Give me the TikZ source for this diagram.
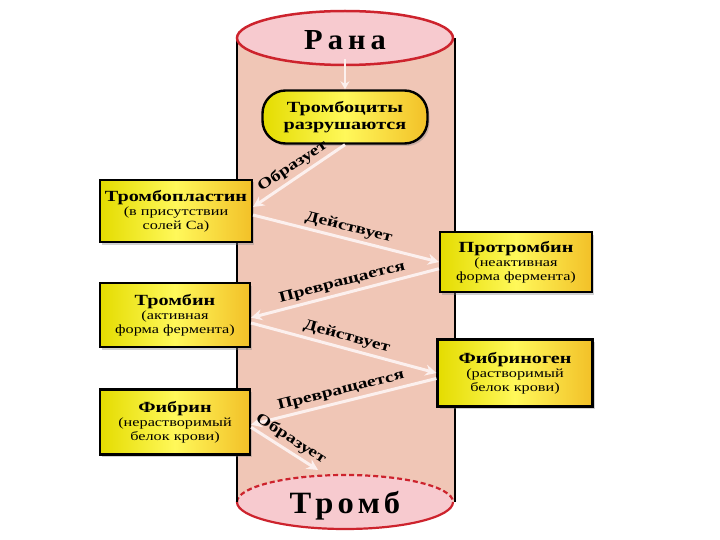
\documentclass[tikz,border=0pt]{standalone}
\usepackage{fontspec}
\setmainfont{Liberation Serif}[FakeStretch=1.3]
\newfontfamily\bigf{Liberation Serif}[FakeStretch=1.05]
\usetikzlibrary{shadows,arrows.meta}

\definecolor{body}{RGB}{240,198,182}
\definecolor{lid}{RGB}{247,202,207}
\definecolor{lidred}{RGB}{205,35,45}
\definecolor{yelA}{RGB}{228,220,0}
\definecolor{yelB}{RGB}{255,248,90}
\definecolor{yelC}{RGB}{242,192,40}
\definecolor{arr}{RGB}{252,240,238}

\newcommand{\ttlf}{\bfseries\fontsize{15.5}{17}\selectfont}

\tikzset{
 box/.style={draw=black, line width=2.2pt, minimum width=152pt, minimum height=62pt,
   align=center, left color=yelA, right color=yelC, middle color=yelB, inner sep=2pt,
   font=\fontsize{12.5}{13.5}\selectfont,
   drop shadow={shadow xshift=2pt,shadow yshift=-2.5pt,opacity=0.35,fill=gray}},
 pill/.style={draw=black, line width=2.4pt, rounded corners=23pt, minimum width=165pt,
   minimum height=53pt, align=center, left color=yelA, right color=yelC, middle color=yelB,
   font=\bfseries\fontsize{15.5}{17}\selectfont,
   drop shadow={shadow xshift=2pt,shadow yshift=-2.5pt,opacity=0.35,fill=gray}},
 flow/.style={draw=arr, line width=3pt, -{Stealth[length=11pt,width=11pt]}},
 lbl/.style={font=\bfseries\fontsize{15}{16}\selectfont, sloped, above, inner sep=3pt, midway},
 title/.style={font=\bigf\bfseries}
}

\begin{document}
\begin{tikzpicture}[x=1pt,y=-1pt]
\useasboundingbox[fill=white] (0,0) rectangle (720,540);

% cylinder body
\fill[body] (237,38) rectangle (455,502);
\fill[lid] (345,502) ellipse [x radius=108, y radius=27];
\draw[lidred, line width=2.2pt] (453,502) arc[start angle=0, end angle=180, x radius=108, y radius=27];
\draw[lidred, line width=2.2pt, dashed, dash pattern=on 5pt off 3pt] (237,502) arc[start angle=180, end angle=360, x radius=108, y radius=27];
\draw[line width=1.6pt] (237,38) -- (237,502);
\draw[line width=1.6pt] (455,38) -- (455,502);
\draw[lidred, line width=2.5pt, fill=lid] (345,38) ellipse [x radius=108, y radius=27];

\node[title, font=\bigf\bfseries\fontsize{29}{30}\selectfont] (rana) at (345,40) {Р\hspace{5pt}а\hspace{5pt}н\hspace{5pt}а};
\node[title, font=\bigf\bfseries\fontsize{31}{32}\selectfont] (tromb) at (345,506) {Т\hspace{4pt}р\hspace{4pt}о\hspace{4pt}м\hspace{4pt}б};

% nodes
\node[pill] (trc) at (345,117) {Тромбоциты\\разрушаются};
\node[box] (tpl) at (176,211) {{\ttlf Тромбопластин}\\[1pt](в присутствии\\солей Са)};
\node[box, minimum height=60pt] (prt) at (516,262) {{\ttlf Протромбин}\\[1pt](неактивная\\форма фермента)};
\node[box, minimum width=150pt, minimum height=64pt] (trn) at (175,315) {{\ttlf Тромбин}\\[1pt](активная\\форма фермента)};
\node[box, minimum width=155pt, minimum height=67pt] (fbg) at (515,373) {{\ttlf Фибриноген}\\[1pt](растворимый\\белок крови)};
\node[box, minimum width=150pt, minimum height=65pt] (fbn) at (175,422) {{\ttlf Фибрин}\\[1pt](нерастворимый\\белок крови)};
\coordinate (tend) at (318,470);

% connectors
\draw[flow, line width=2.5pt, -{Stealth[length=8pt,width=9pt]}] (rana.south) ++(0,6) coordinate (rs) (rs) -- (trc.north);
\draw[flow] (trc.south) -- node[lbl]{Образует} (tpl.3);
\draw[flow] (tpl.-3) -- node[lbl]{Действует} (prt.west);
\draw[flow] (prt.185) -- node[lbl]{Превращается} (trn.-2);
\draw[flow] (trn.-6) -- node[lbl]{Действует} (fbg.west);
\draw[flow] (fbg.184) -- node[lbl]{Превращается} (fbn.-2);
\draw[flow] (fbn.-4) -- node[lbl]{Образует} (tend);
\end{tikzpicture}
\end{document}
